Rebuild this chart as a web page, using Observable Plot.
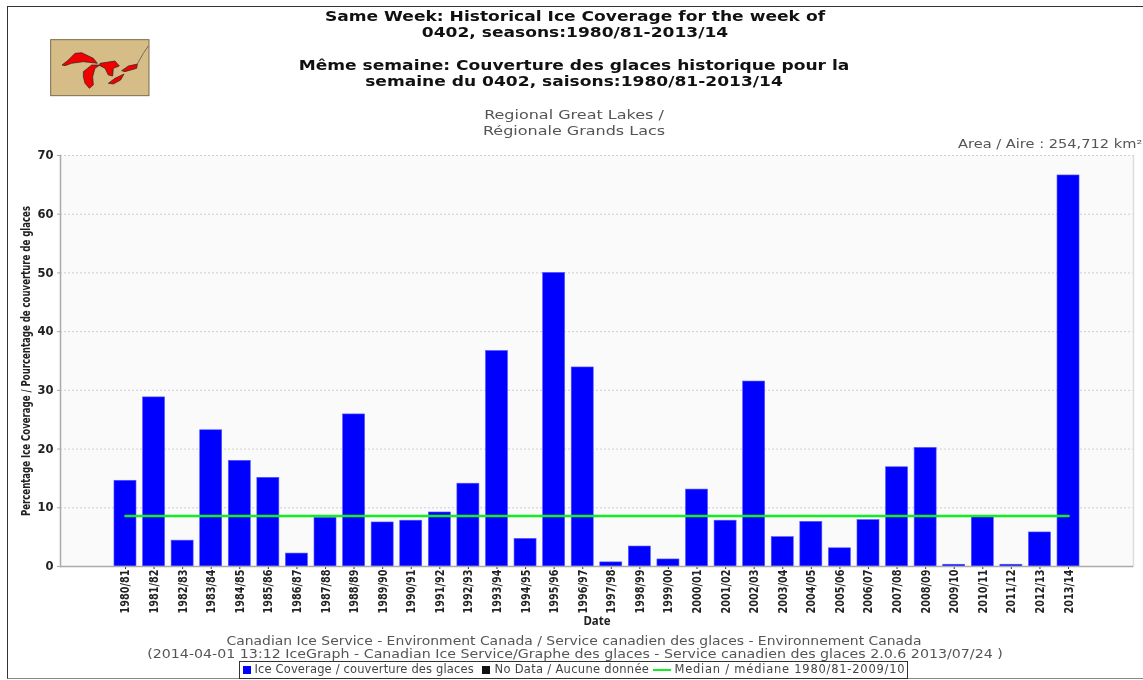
<!DOCTYPE html>
<html><head><meta charset="utf-8">
<script src="https://cdn.jsdelivr.net/npm/d3@7"></script>
<script src="https://cdn.jsdelivr.net/npm/@observablehq/plot@0.6"></script>
<style>
html,body{margin:0;padding:0;background:#fff;overflow:hidden}
#page{position:relative;width:1143px;height:680px;overflow:hidden;font-family:"DejaVu Sans",sans-serif;color:#333;filter:blur(.3px)}
#edge{position:absolute;left:7px;top:6px;width:1140px;height:671px;border-left:1.5px solid #333;border-top:1.5px solid #333;border-bottom:1.5px solid #888}
.c{position:absolute;text-align:center;white-space:nowrap;transform:translateX(-50%) scaleX(var(--s))}
.t{font-weight:bold;font-size:14px;line-height:16px;color:#111;--s:1.22}
.s{font-size:13px;line-height:15px;color:#555;--s:1.23}
#chart{position:absolute;left:0;top:0}
#legend{position:absolute;left:239px;top:661px;width:669px;height:18px;border:1.5px solid #333;box-sizing:border-box;font-size:11.5px;color:#444;line-height:15px;white-space:nowrap;background:#fff}
#legend span,#legend i,#legend b{position:absolute;display:block}
#legend i{top:3.5px;width:8px;height:8px}
#legend b{left:413px;top:7px;width:18px;height:2px;background:#11ee22}
</style></head><body>
<div id="page">
<div id="edge"></div>
<div id="chart"></div>
<svg style="position:absolute;left:50px;top:39px" width="100" height="58" viewBox="150 117 300 174">
<rect x="152" y="119" width="295" height="168" fill="#d6bd88" stroke="#7a6a50" stroke-width="3"/>
<path d="M186 195L205 180L225 160L245 158L280 175L292 190L250 185L215 190L195 197Z M250 215L275 195L300 195L285 205L278 230L280 255L268 265L255 250L250 230Z M300 190L345 183L358 198L340 205L338 228L325 225L315 205L300 197Z M325 250L345 235L372 222L362 240L340 252Z M365 212L385 198L412 192L410 205L375 215Z" fill="#f00000" stroke="#222" stroke-width="2"/>
<path d="M412 192L430 160L445 138" fill="none" stroke="#444" stroke-width="2"/>
</svg>
<div class="c t" style="left:575px;top:8px">Same Week: Historical Ice Coverage for the week of<br>0402, seasons:1980/81-2013/14</div>
<div class="c t" style="left:574px;top:57px">Même semaine: Couverture des glaces historique pour la<br>semaine du 0402, saisons:1980/81-2013/14</div>
<div class="c s" style="left:574px;top:107px;line-height:15.5px">Regional Great Lakes /<br>Régionale Grands Lacs</div>
<div style="position:absolute;left:958px;top:137px;font-size:11.5px;line-height:15px;color:#555;white-space:nowrap;transform-origin:left;transform:scaleX(1.27)">Area / Aire : 254,712 km²</div>
<div class="c s" style="left:574px;top:635px;font-size:11.5px;line-height:12.5px;--s:1.21">Canadian Ice Service - Environment Canada / Service canadien des glaces - Environnement Canada</div>
<div class="c s" style="left:575px;top:647.5px;font-size:11.5px;line-height:12.5px;--s:1.235">(2014-04-01 13:12 IceGraph - Canadian Ice Service/Graphe des glaces - Service canadien des glaces 2.0.6 2013/07/24 )</div>
<div id="legend"><i style="left:2.5px;background:#0000ff"></i><span style="left:14.5px;letter-spacing:.15px">Ice Coverage / couverture des glaces</span><i style="left:241.5px;background:#111"></i><span style="left:254.5px;letter-spacing:.3px">No Data / Aucune donnée</span><b></b><span style="left:434.5px;letter-spacing:.76px">Median / médiane 1980/81-2009/10</span></div>
</div>
<script>
const seasons = ["1980/81","1981/82","1982/83","1983/84","1984/85","1985/86","1986/87","1987/88","1988/89","1989/90","1990/91","1991/92","1992/93","1993/94","1994/95","1995/96","1996/97","1997/98","1998/99","1999/00","2000/01","2001/02","2002/03","2003/04","2004/05","2005/06","2006/07","2007/08","2008/09","2009/10","2010/11","2011/12","2012/13","2013/14"];
const coverage = [14.6,28.8,4.4,23.2,18,15.1,2.2,8.3,25.9,7.5,7.8,9.2,14.1,36.7,4.7,50,33.9,0.7,3.4,1.2,13.1,7.8,31.5,5,7.6,3.1,7.9,16.9,20.2,0.3,8.6,0.3,5.8,66.6];
const median = 8.6;
const yTicks = [0,10,20,30,40,50,60,70];
const yLabel = "Percentage Ice Coverage / Pourcentage de couverture de glaces";
const rows = seasons.map((s,i)=>({season:s,value:coverage[i]}));
const plot = Plot.plot({
  width:1143, height:680,
  marginLeft:60, marginRight:10, marginTop:155, marginBottom:114,
  style:{background:"transparent",overflow:"visible"},
  x:{domain:seasons, range:[107.4,1085.6], padding:0.23, align:0.5, round:false, label:null},
  y:{domain:[0,70], range:[566,155], label:null},
  marks:[
    Plot.frame({fill:"#fafafa",stroke:null}),
    Plot.ruleY(yTicks,{stroke:"#cfcfcf",strokeDasharray:"2,2",strokeWidth:1}),
    Plot.frame({anchor:"left",stroke:"#aaa",strokeWidth:1.5}),
    Plot.frame({anchor:"right",stroke:"#ddd",strokeWidth:1.5}),
    Plot.barY(rows,{x:"season",y:"value",fill:"#0000ff",stroke:"#5555ff",strokeWidth:0.6}),
    Plot.lineY(seasons,{x:d=>d,y:()=>median,stroke:"#11ee22",strokeWidth:2.6}),
    Plot.axisY({ticks:yTicks,tickSize:3,tickPadding:4,label:null,fontSize:11.5,fontWeight:"bold",fill:"#222",stroke:"#aaa",fontFamily:"DejaVu Sans"}),
    Plot.axisX({tickSize:3,tickPadding:0,tickRotate:-90,label:null,fontSize:12.5,fontWeight:"bold",fill:"#222",fontFamily:"DejaVu Sans"}),
    Plot.ruleY([0],{stroke:"#aaa",strokeWidth:1.5}),
    Plot.text([yLabel],{frameAnchor:"left",textAnchor:"middle",dx:-35,rotate:-90,fontSize:12.5,fontWeight:"bold",fill:"#222",fontFamily:"DejaVu Sans"}),
    Plot.text(["Date"],{frameAnchor:"bottom",dy:58,fontSize:11.5,fontWeight:"bold",fill:"#222"})
  ]
});
plot.querySelectorAll("text").forEach(t=>{
  const s=t.textContent.trim();
  if(seasons.includes(s)||s===yLabel){
    t.setAttribute("textLength",s===yLabel?310:44);
    t.setAttribute("lengthAdjust","spacingAndGlyphs");
  }
});
document.getElementById("chart").append(plot);
</script>
</body></html>
